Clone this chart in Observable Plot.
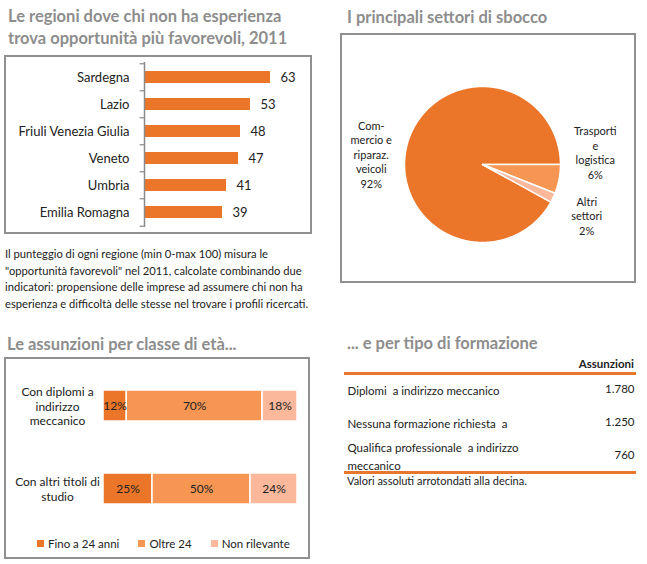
<!DOCTYPE html>
<html><head><meta charset="utf-8">
<script src="https://cdn.jsdelivr.net/npm/d3@7"></script>
<script src="https://cdn.jsdelivr.net/npm/@observablehq/plot@0.6"></script>
<style>
body{margin:0;width:647px;height:564px;position:relative;background:#fff;font-family:Lato,"Open Sans",sans-serif;color:#222;overflow:hidden}
.abs{position:absolute;white-space:nowrap}
.title{color:#8d8d8d;font-weight:bold;font-size:16.5px;line-height:22px}
.box{border:2px solid #909090;box-sizing:border-box}
svg text{white-space:pre}
.lg{display:inline-flex;align-items:center;margin-right:19px}
.lg i{display:inline-block;width:7px;height:7px;margin-right:4px}
</style></head><body>

<div class="abs title" style="left:8px;top:5px">Le regioni dove chi non ha esperienza<br>trova opportunità più favorevoli, 2011</div>
<div id="box1" class="abs box" style="left:4px;top:55px;width:308px;height:179px"></div>
<div class="abs" style="left:5px;top:246px;font-size:11.2px;line-height:16.7px">Il punteggio di ogni regione (min 0-max 100) misura le<br>"opportunità favorevoli" nel 2011, calcolate combinando due<br>indicatori: propensione delle imprese ad assumere chi non ha<br>esperienza e difficoltà delle stesse nel trovare i profili ricercati.</div>

<div class="abs title" style="left:347px;top:6px">I principali settori di sbocco</div>
<div id="box2" class="abs box" style="left:340px;top:33px;width:296px;height:250px"></div>

<div class="abs title" style="left:7px;top:333px">Le assunzioni per classe di età...</div>
<div id="box3" class="abs box" style="left:4px;top:357px;width:306px;height:202px"></div>
<div id="legend" class="abs" style="left:37px;top:535px;font-size:11.5px;line-height:16px"></div>

<div class="abs title" style="left:347px;top:332px">... e per tipo di formazione</div>
<div class="abs" style="right:13px;top:357px;font-size:11.5px;font-weight:bold">Assunzioni</div>
<div id="tbl" class="abs" style="left:344px;top:372px;width:292px;border-top:3px solid #E8772E;border-bottom:3px solid #E8772E"></div>
<div class="abs" style="left:347px;top:474px;font-size:11px">Valori assoluti arrotondati alla decina.</div>

<script>
// ---- Data ----
const regions = ["Sardegna","Lazio","Friuli Venezia Giulia","Veneto","Umbria","Emilia Romagna"];
const regionScores = [63,53,48,47,41,39];

const sectors = ["Commercio e riparaz. veicoli","Trasporti e logistica","Altri settori"];
const sectorLabels = ["Com-\nmercio e\nriparaz.\nveicoli","Trasporti\ne\nlogistica","Altri\nsettori"];
const sectorShares = [92,6,2];

const groups = ["Con diplomi a\nindirizzo\nmeccanico","Con altri titoli di\nstudio"];
const ageClasses = ["Fino a 24 anni","Oltre 24","Non rilevante"];
const ageShares = [[12,70,18],[25,50,24]];

const formazioni = ["Diplomi  a indirizzo meccanico","Nessuna formazione richiesta  a","Qualifica professionale  a indirizzo\nmeccanico"];
const assunzioni = [1780,1250,760];

const orange = "#EB7528";
const ageColors = ["#EB7528","#F79552","#FBB89B"];
const pieColors = ["#EB7528","#F79552","#FBB89B"];

// ---- Chart 1: regions ----
{
  const data = regions.map((r,i)=>({region:r, value:regionScores[i]}));
  const step = 165/regions.length;
  const chart = Plot.plot({
    width:304, height:175, marginLeft:138, marginRight:26, marginTop:5, marginBottom:5,
    style:{fontSize:"13px", color:"#222", fontFamily:"Lato, sans-serif"},
    x:{domain:[0,70], axis:null},
    y:{domain:regions, paddingInner:0.56, paddingOuter:0.28, tickSize:0, tickPadding:15, label:null},
    marks:[
      Plot.barX(data,{y:"region", x:"value", fill:orange}),
      Plot.text(data,{y:"region", x:"value", text:d=>String(d.value), textAnchor:"start", dx:10}),
      Plot.ruleX([0],{stroke:"#8a8a8a", strokeWidth:1.5}),
      Plot.ruleY(regions,{y:d=>d, x1:-2.2, x2:0, dy:-step/2, stroke:"#8a8a8a", strokeWidth:1.2}),
      Plot.ruleY(regions.slice(-1),{y:d=>d, x1:-2.2, x2:0, dy:step/2, stroke:"#8a8a8a", strokeWidth:1.2})
    ]
  });
  document.getElementById("box1").appendChild(chart);
}

// ---- Chart 2: pie ----
{
  const data = sectors.map((s,i)=>({sector:s, label:sectorLabels[i], value:sectorShares[i]}));
  const total = d3.sum(sectorShares);
  const start = Math.PI/2 + (total - sectorShares[0])/total*2*Math.PI;
  const arcs = d3.pie().sort(null).value(d=>d.value).startAngle(start).endAngle(start+2*Math.PI)(data);
  const pts = [];
  arcs.forEach(a=>{
    pts.push({sector:a.data.sector, x:0, y:0});
    const n = Math.max(4, Math.ceil((a.endAngle-a.startAngle)/0.01));
    for(let k=0;k<=n;k++){
      const t = a.startAngle + (a.endAngle-a.startAngle)*k/n;
      pts.push({sector:a.data.sector, x:Math.sin(t), y:Math.cos(t)});
    }
  });
  const nudge = {"Commercio e riparaz. veicoli":[-4,17], "Trasporti e logistica":[4,-33], "Altri settori":[4,4]};
  const labels = arcs.map(a=>{
    const m = (a.startAngle+a.endAngle)/2;
    return {sector:a.data.sector, x:1.42*Math.sin(m), y:1.42*Math.cos(m), text:a.data.label+"\n"+a.data.value+"%"};
  });
  const chart = Plot.plot({
    width:292, height:246, margin:0,
    style:{fontSize:"11px", color:"#222", fontFamily:"Lato, sans-serif"},
    x:{domain:[-1,1], range:[62,218], axis:null},
    y:{domain:[-1,1], range:[207,51], axis:null},
    color:{domain:sectors, range:pieColors},
    marks:[
      Plot.line(pts,{x:"x", y:"y", z:"sector", fill:"sector", stroke:"white", strokeWidth:1.5, curve:"linear-closed"}),
      ...labels.map(l=>Plot.text([l],{x:"x", y:"y", text:"text", lineHeight:1.32, dx:nudge[l.sector][0], dy:nudge[l.sector][1]}))
    ]
  });
  document.getElementById("box2").appendChild(chart);
}

// ---- Chart 3: stacked bars ----
{
  const rows = [];
  groups.forEach((g,i)=>ageClasses.forEach((a,j)=>rows.push({group:g, age:a, value:ageShares[i][j]})));
  const chart = Plot.plot({
    width:302, height:175, marginLeft:97, marginRight:11, marginTop:0, marginBottom:0,
    style:{fontSize:"12px", color:"#222", fontFamily:"Lato, sans-serif"},
    x:{axis:null},
    y:{domain:groups, range:[30.5,144.5], paddingInner:0.627, paddingOuter:0, axis:null},
    color:{domain:ageClasses, range:ageColors},
    marks:[
      Plot.barX(rows, Plot.stackX({offset:"normalize", x:"value", y:"group", fill:"age", stroke:"white", strokeWidth:1.5})),
      Plot.text(rows, Plot.stackX({offset:"normalize", x:"value", y:"group", text:d=>d.value+"%"})),
      Plot.text(groups,{y:d=>d, text:d=>d, frameAnchor:"left", dx:-46, textAnchor:"middle", lineHeight:1.22, fontSize:12})
    ]
  });
  document.getElementById("box3").appendChild(chart);
  const lg = document.getElementById("legend");
  ageClasses.forEach((a,j)=>{
    const s = document.createElement("span"); s.className="lg";
    s.innerHTML = `<i style="background:${ageColors[j]}"></i>${a}`;
    lg.appendChild(s);
  });
}

// ---- Table ----
{
  const it = d3.formatLocale({decimal:",", thousands:".", grouping:[3], currency:["€",""]});
  const fmt = it.format(",");
  const data = formazioni.map((f,i)=>({f, v:assunzioni[i]}));
  const chart = Plot.plot({
    width:292, height:96, marginLeft:3, marginRight:2, marginTop:0, marginBottom:0,
    style:{fontSize:"11.5px", color:"#222", fontFamily:"Lato, sans-serif", overflow:"visible"},
    x:{axis:null},
    y:{type:"point", domain:formazioni, range:[14,80], padding:0, axis:null},
    marks:[
      Plot.text(data,{y:"f", text:"f", frameAnchor:"left", textAnchor:"start", lineHeight:1.5}),
      Plot.text(data,{y:"f", text:d=>fmt(d.v), frameAnchor:"right", textAnchor:"end"})
    ]
  });
  document.getElementById("tbl").appendChild(chart);
}
</script>
</body></html>
